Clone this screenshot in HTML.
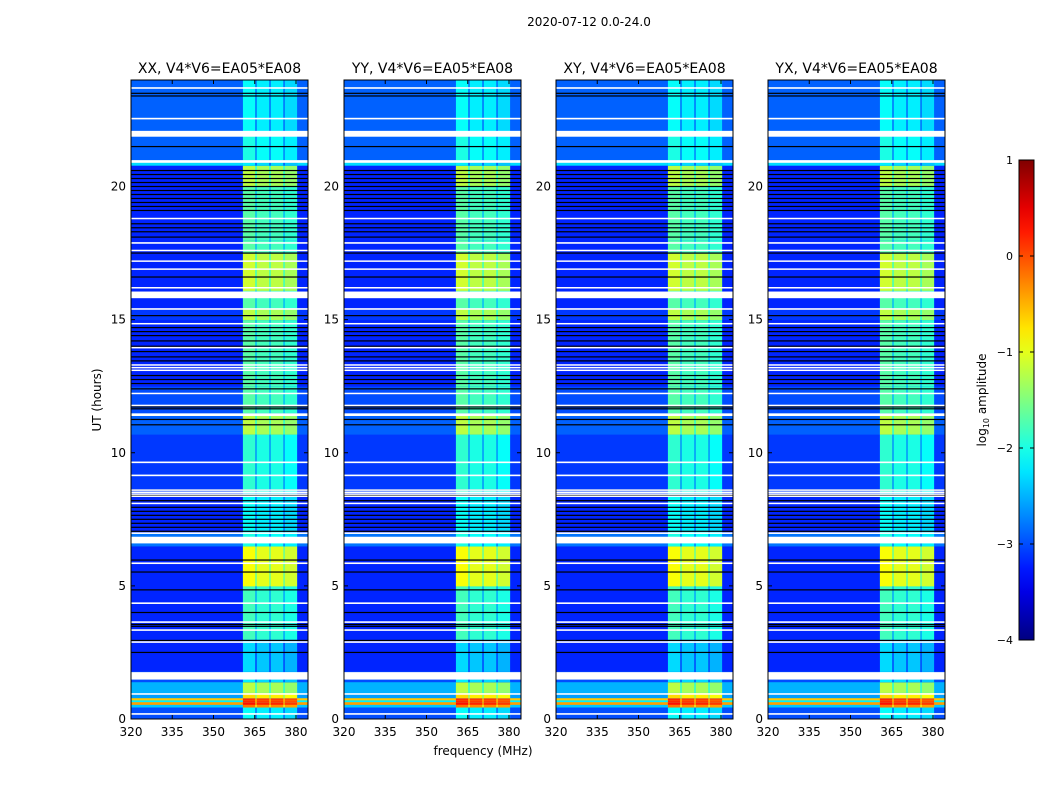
<!DOCTYPE html>
<html><head><meta charset="utf-8">
<style>
body{margin:0;background:#fff;}
svg text{font-family:"DejaVu Sans","Liberation Sans",sans-serif;fill:#000;}
</style></head>
<body>
<svg id="fig" width="1050" height="800" viewBox="0 0 1050 800" xmlns="http://www.w3.org/2000/svg">
<rect width="1050" height="800" fill="#fff"/>
<text x="589" y="26" font-size="12" text-anchor="middle">2020-07-12 0.0-24.0</text>
<text x="483" y="755" font-size="12" text-anchor="middle">frequency (MHz)</text>
<text x="101" y="400" font-size="12" text-anchor="middle" transform="rotate(-90 101 400)">UT (hours)</text>
<g id="panels"></g>
<g id="cbar"></g>
<text x="986" y="400" font-size="12" text-anchor="middle" transform="rotate(-90 986 400)">log<tspan font-size="8" dy="3">10</tspan><tspan dy="-3"> amplitude</tspan></text>
</svg>
<script>
// ---- data ----
const panelTitles = ["XX, V4*V6=EA05*EA08","YY, V4*V6=EA05*EA08","XY, V4*V6=EA05*EA08","YX, V4*V6=EA05*EA08"];
const xTicks = [320,335,350,365,380];
const yTicks = [0,5,10,15,20];
const cbTicks = [1,0,-1,-2,-3,-4];
// time segments (hours): start, end, in-band log amplitude, background log amplitude
const segStart = [0,   0.45, 0.55, 0.65, 0.72, 0.8, 1.0,  1.4, 1.8,  3.0,  5.0,  6.5, 7.0,  8.5,  10.7, 11.5, 12.5, 15.0, 15.4, 16.1, 17.5, 18.0, 20.0, 20.8, 21.0, 22.0];
const segEnd   = [0.45,0.55, 0.65, 0.72, 0.8,  1.0, 1.4,  1.8, 3.0,  5.0,  6.5,  7.0, 8.5,  10.7, 11.5, 12.5, 15.0, 15.4, 16.1, 17.5, 18.0, 20.0, 20.8, 21.0, 22.0, 24.0];
const segBand  = [-2.2,-0.3, 0.2,  0.1,  0.1,  -0.8,-1.3, -2.3,-2.4, -1.9, -1.0, -2.1,-2.2, -2.0, -1.3, -1.8, -1.8, -1.3, -1.8, -1.2, -1.8, -1.8, -1.3, -2.3, -2.1, -2.2];
const segBg    = [-3.0,-2.4, -0.4, -2.2, -0.6, -2.6,-2.5, -3.0,-3.2, -3.2, -3.2, -2.8,-3.2, -3.1, -2.9, -3.0, -3.2, -3.1, -3.2, -3.2, -3.2, -3.2, -3.2, -2.3, -2.9, -2.9];
// sub-band (MHz) boundaries and their relative offsets
const subStart = [360.7, 365.7, 370.8, 375.9];
const subEnd   = [365.2, 370.3, 375.4, 380.4];
const subOffset= [0.1, 0.0, 0.0, -0.1];
// flagged (white) rows: hour, thickness(h)
const whiteH = [23.7,22.55,21.98,20.94,18.8,17.88,17.6,17.2,16.9,16.2,15.93,15.4,14.85,13.95,13.3,13.2,13.1,12.23,11.78,11.43,9.64,9.15,8.6,8.52,8.45,8.37,8.1,6.98,6.72,5.85,4.35,3.64,3.34,2.89,1.62,0.94,0.19];
const whiteW = [0.06,0.06,0.22,0.1,0.05,0.06,0.05,0.05,0.05,0.05,0.25,0.06,0.05,0.05,0.05,0.05,0.05,0.05,0.05,0.1,0.06,0.06,0.05,0.05,0.05,0.05,0.05,0.06,0.25,0.06,0.06,0.06,0.06,0.06,0.28,0.06,0.06];
// black (zeroed) rows
const blackH = [23.5,23.4,21.5,20.6,20.45,20.3,20.15,20.0,19.85,19.7,19.55,19.4,19.25,19.1,18.6,18.45,18.3,18.1,17.5,16.6,15.15,14.7,14.55,14.4,14.2,14.0,13.8,13.6,13.45,12.9,12.75,12.6,12.4,11.72,11.65,11.25,11.05,8.6,8.4,8.2,7.95,7.8,7.65,7.5,7.35,7.2,7.05,5.97,5.52,4.85,4.0,3.55,3.48,2.95,2.5];

// ---- helpers ----
const NS="http://www.w3.org/2000/svg";
function jet(v){
  let t=(v+4)/5; t=Math.max(0,Math.min(1,t));
  const f=x=>Math.max(0,Math.min(1,x));
  const r=f(Math.min(4*t-1.5,-4*t+4.5)), g=f(Math.min(4*t-0.5,-4*t+3.5)), b=f(Math.min(4*t+0.5,-4*t+2.5));
  return `rgb(${Math.round(r*255)},${Math.round(g*255)},${Math.round(b*255)})`;
}
function mk(tag,attrs,parent){const e=document.createElementNS(NS,tag);for(const k in attrs)e.setAttribute(k,attrs[k]);parent.appendChild(e);return e;}
const panelX=[131,344,556,768], PW=177, PT=80, PB=719;
const fMin=320, fMax=320+PW/2.75;
const root=document.getElementById('panels');
panelX.forEach((px,pi)=>{
  const xs=f=>px+(f-fMin)/(fMax-fMin)*PW;
  const ys=h=>PB-(h/24)*(PB-PT);
  const g=mk('g',{},root);
  
  
  const clip=mk('clipPath',{id:'c'+pi},g); mk('rect',{x:px,y:PT,width:PW,height:PB-PT},clip);
  const hm=mk('g',{'clip-path':`url(#c${pi})`},g);
  
  
  for(let i=0;i<segStart.length;i++){
    const y0=ys(segEnd[i]), y1=ys(segStart[i]);
    const r=mk('rect',{x:px,y:y0,width:PW,height:y1-y0+0.5,fill:jet(segBg[i])},hm);
    
    
    mk('rect',{x:xs(subStart[0]),y:y0,width:xs(subEnd[3])-xs(subStart[0]),height:y1-y0+0.5,fill:jet(segBand[i]-0.7)},hm);
    for(let s=0;s<subStart.length;s++){
      const c=mk('rect',{x:xs(subStart[s]),y:y0,width:xs(subEnd[s])-xs(subStart[s]),height:y1-y0+0.5,fill:jet(segBand[i]+subOffset[s])},hm);
      
      
    }
  }
  blackH.forEach(h=>{const l=mk('rect',{x:px,y:ys(h)-0.6,width:PW,height:1.2,fill:'#000'},hm);
    
    });
  whiteH.forEach((h,i)=>{const y0=ys(h+whiteW[i]/2), y1=ys(h-whiteW[i]/2);
    const l=mk('rect',{x:px,y:y0,width:PW,height:Math.max(1.5,y1-y0),fill:'#fff'},hm);
    
    });
  mk('rect',{x:px,y:PT,width:PW,height:PB-PT,fill:'none',stroke:'#000','stroke-width':1},g);
  const t=mk('text',{x:px+PW/2,y:PT-7,'font-size':14,'text-anchor':'middle'},g);
  t.textContent=panelTitles[pi];
  
  
  xTicks.forEach(v=>{const x=xs(v);
    mk('line',{x1:x,x2:x,y1:PB,y2:PB-4,stroke:'#000'},g);mk('line',{x1:x,x2:x,y1:PT,y2:PT+4,stroke:'#000'},g);
    const l=mk('text',{x:x,y:PB+17,'font-size':12,'text-anchor':'middle'},g);l.textContent=v;
    
    });
  yTicks.forEach(v=>{const y=ys(v);
    mk('line',{x1:px,x2:px+4,y1:y,y2:y,stroke:'#000'},g);mk('line',{x1:px+PW,x2:px+PW-4,y1:y,y2:y,stroke:'#000'},g);
    const l=mk('text',{x:px-5,y:y+4,'font-size':12,'text-anchor':'end'},g);l.textContent=v;
    
    });
});
// colorbar
const cb=document.getElementById('cbar');
const cx=1019,cw=15,cTop=160,cBot=640;
const defs=mk('defs',{},cb);
const grad=mk('linearGradient',{id:'jetg',x1:0,y1:1,x2:0,y2:0},defs);
for(let i=0;i<=20;i++){mk('stop',{offset:i/20,'stop-color':jet(-4+5*i/20)},grad);}
mk('rect',{x:cx,y:cTop,width:cw,height:cBot-cTop,fill:'url(#jetg)',stroke:'#000','stroke-width':1},cb);
cbTicks.forEach(v=>{const y=cBot-(v+4)/5*(cBot-cTop);
  mk('line',{x1:cx,x2:cx+4,y1:y,y2:y,stroke:'#000'},cb);mk('line',{x1:cx+cw,x2:cx+cw-4,y1:y,y2:y,stroke:'#000'},cb);
  const l=mk('text',{x:cx-6,y:y+4,'font-size':11,'text-anchor':'end'},cb);l.textContent=v<0?'\u2212'+(-v):v;
  
  });
</script>
</body></html>
